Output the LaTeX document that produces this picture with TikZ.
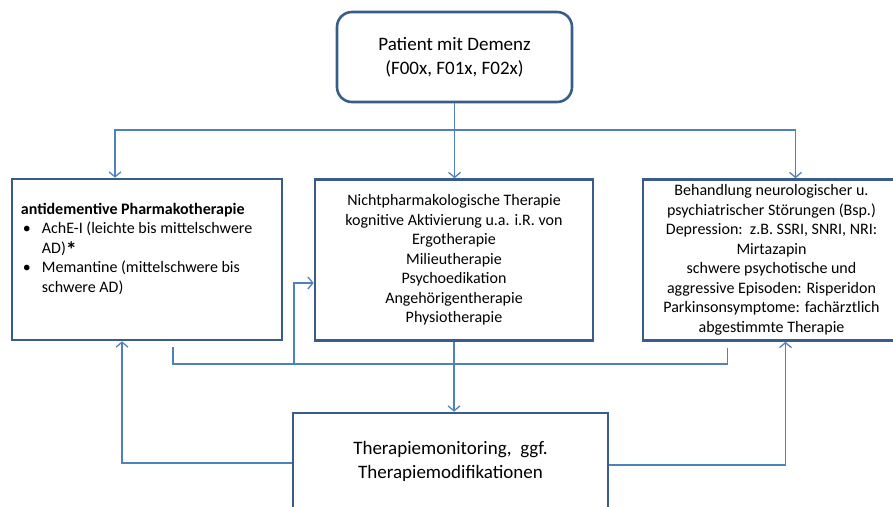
\documentclass[tikz,border=0pt]{standalone}
\usepackage{fontspec}
\setmainfont{Carlito}
\usetikzlibrary{positioning,arrows.meta,calc}
\definecolor{box-line}{RGB}{56,93,138}
\definecolor{con-line}{RGB}{79,129,189}
\tikzstyle{a}=[anchor=center]
\tikzstyle{box}=[a,draw=box-line,line width=2.6pt,rectangle,fill=white,inner sep=0pt,align=center]
\tikzstyle{start}=[box,rounded corners=15pt]
\tikzstyle{small}=[font=\fontsize{16}{19.5}\selectfont]
\tikzstyle{large}=[font=\fontsize{19}{24}\selectfont]
\tikzstyle{line}=[draw=con-line,line width=1.3pt]
\tikzstyle{arrow}=[line,-{Straight Barb[length=5pt,width=12pt]}]

\begin{document}
\begin{tikzpicture}[x=1pt,y=-1pt]
  \useasboundingbox (0,0) rectangle (893,506);

  \node[start,large,minimum width=235,minimum height=90] at (454.5,57) (patient) {Patient mit Demenz\\(F00x, F01x, F02x)};

  \node[box,minimum width=270,minimum height=161] at (147,259.5) (pharma) {};
  \node[a,anchor=north west,small,align=left,inner sep=0pt] at ([shift={(10,25)}]pharma.north west) (pharmatext) {\textbf{antidementive Pharmakotherapie}\\
    \hspace*{2pt}\makebox[19pt][l]{\textbullet}AchE-I (leichte bis mittelschwere\\
    \hspace*{21pt}AD)\raisebox{-4pt}{\fontsize{22}{19.5}\selectfont\bfseries*}\\
    \hspace*{2pt}\makebox[19pt][l]{\textbullet}Memantine (mittelschwere bis\\
    \hspace*{21pt}schwere AD)};

  \node[box,small,minimum width=278,minimum height=161] at (454,260) (nonpharm) {Nichtpharmakologische Therapie\\kognitive Aktivierung u.a. i.R. von\\Ergotherapie\\Milieutherapie\\Psychoedikation\\Angehörigentherapie\\Physiotherapie};

  \node[box,small,minimum width=257,minimum height=161] at (771.5,260) (behandlung) {Behandlung neurologischer u.\\psychiatrischer Störungen (Bsp.)\\Depression:~~z.B. SSRI, SNRI, NRI:\\Mirtazapin\\schwere psychotische und\\aggressive Episoden: Risperidon\\Parkinsonsymptome: fachärztlich\\abgestimmte Therapie};

  \node[box,large,minimum width=315,minimum height=96] at (450.5,461) (monitor) {Therapiemonitoring,~ ggf.\\Therapiemodifikationen};

  \coordinate (branch) at (patient.south|-0,130);
  \coordinate (collect) at (294,364);

  \draw[arrow] (patient.south) -- (patient.south|-nonpharm.north);
  \draw[line] ([xshift=-32]pharma.north|-branch) -- ([xshift=24]behandlung.north|-branch);
  \draw[arrow] (branch) -| ([xshift=-32]pharma.north);
  \draw[arrow] (branch) -| ([xshift=24]behandlung.north);

  \draw[line] ([shift={(26,6)}]pharma.south) |- ([xshift=-44]behandlung.south|-collect) -- ([shift={(-44,6)}]behandlung.south);
  \draw[arrow] (collect) |- (nonpharm.west|-0,283);
  \draw[arrow] (nonpharm.south) -- (nonpharm.south|-monitor.north);

  \draw[arrow] (monitor.west|-0,463) -| ([xshift=-25]pharma.south);
  \draw[arrow] (monitor.east|-0,465) -| ([xshift=14]behandlung.south);

\end{tikzpicture}
\end{document}
